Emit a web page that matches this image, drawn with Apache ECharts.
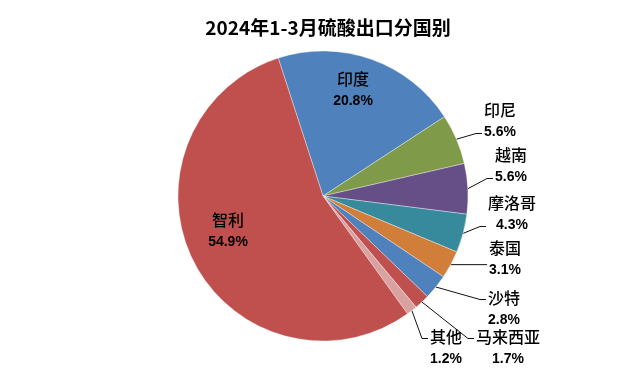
<!DOCTYPE html>
<html><head><meta charset="utf-8">
<script src="https://cdn.jsdelivr.net/npm/echarts@6/dist/echarts.min.js"></script>
<style>html,body{margin:0;padding:0;background:#fff}#c{width:624px;height:378px}</style>
</head><body><div id="c"></div>
<script>
const titleText = '2024年1-3月硫酸出口分国别';
const categories = ['印度','印尼','越南','摩洛哥','泰国','沙特','马来西亚','其他','智利'];
const shares = [20.8, 5.6, 5.6, 4.3, 3.1, 2.8, 1.7, 1.2, 54.9];
const colors = ['#4F81BD','#7F9A48','#664F86','#378A9C','#D17E3A','#4F81BD','#C0504D','#D9A2A1','#C0504D'];
const insideNames = ['印度','智利'];

// label block centres (layout only, not data)
const labelSpots = {
  '印度': [353, 90], '印尼': [500, 121], '越南': [511, 166], '摩洛哥': [512, 214],
  '泰国': [505, 259], '沙特': [504, 309], '马来西亚': [508, 348], '其他': [446, 348], '智利': [228, 231]
};

const fontCJK = '"Noto Sans CJK SC","Microsoft YaHei",sans-serif';
const fmt = p => '{n|' + p.name + '}\n{p|' + p.value.toFixed(1) + '%}';
const rich = {
  n: {fontSize: 16, fontWeight: 500, color: '#000', fontFamily: fontCJK, align: 'center', lineHeight: 22},
  p: {fontSize: 14, fontWeight: 'bold', color: '#000', fontFamily: 'Liberation Sans, Arial, sans-serif', align: 'center', lineHeight: 22}
};

const mainData = categories.map((n, i) => {
  const inside = insideNames.includes(n);
  return {
    name: n, value: shares[i],
    itemStyle: {color: colors[i]},
    labelLine: {show: !inside}
  };
});

function layoutLabel(params) {
  const name = categories[params.dataIndex];
  const spot = labelSpots[name];
  const out = {x: spot[0], y: spot[1], align: 'center', verticalAlign: 'middle'};
  const pts = params.labelLinePoints;
  if (pts && !insideNames.includes(name)) {
    const w = params.labelRect.width, h = params.labelRect.height;
    const left = spot[0] - w / 2, top = spot[1] - h / 2;
    const p0 = pts[0];
    const ey = Math.min(Math.max(p0[1], top + 9), top + h - 6);
    const ex = left - 2;
    out.labelLinePoints = [[p0[0], p0[1]], [ex - 6, ey], [ex, ey]];
  }
  return out;
}

const chart = echarts.init(document.getElementById('c'), null, {renderer: 'canvas'});
chart.setOption({
  animation: false,
  title: {
    text: titleText, left: 323, top: 13, textAlign: 'center',
    textStyle: {fontSize: 19, fontWeight: 'bold', color: '#000', fontFamily: fontCJK}
  },
  series: [
    {
      type: 'pie', center: [323, 196], radius: [0, 145], startAngle: 108, clockwise: true,
      avoidLabelOverlap: false,
      itemStyle: {borderColor: 'rgba(255,255,255,0.6)', borderWidth: 0.6},
      label: {position: 'outside', formatter: fmt, rich: rich},
      labelLine: {length: 8, length2: 10, lineStyle: {color: '#111', width: 1}},
      labelLayout: layoutLabel,
      data: mainData
    }
  ]
});
</script></body></html>
